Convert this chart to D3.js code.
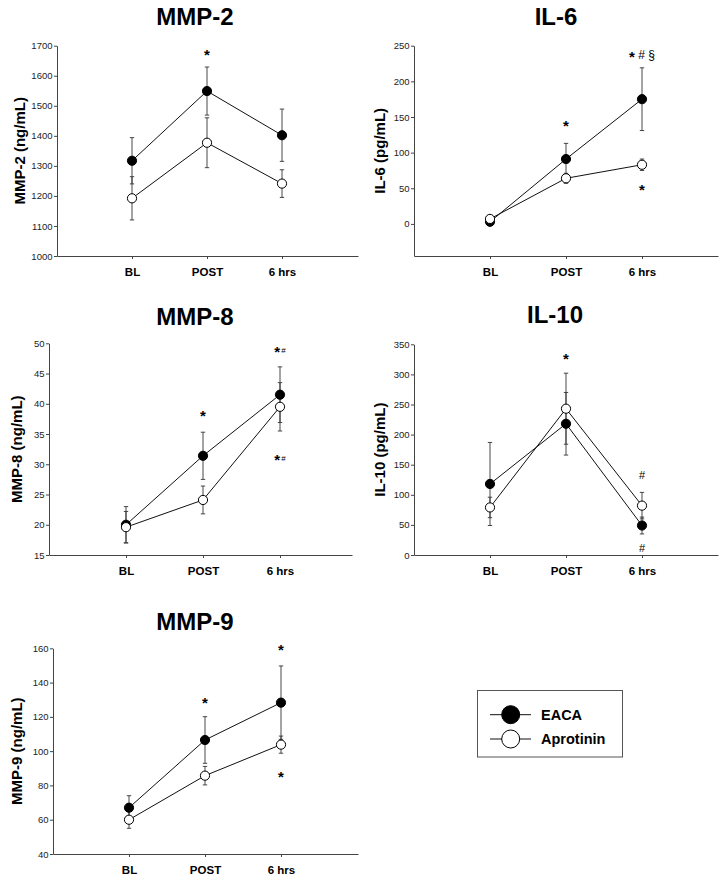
<!DOCTYPE html>
<html>
<head>
<meta charset="utf-8">
<script src="https://cdn.jsdelivr.net/npm/d3@7"></script>
<style>
  html, body { margin: 0; padding: 0; background: #fff; }
  svg { display: block; font-family: "Liberation Sans", Arial, sans-serif; }
</style>
</head>
<body>
<svg id="chart" width="725" height="883"></svg>
<script>
// ---------- DATA ----------
const categories = ["BL", "POST", "6 hrs"];
const seriesNames = ["EACA", "Aprotinin"];

const mmp2EACA = [1317, 1549, 1402];
const mmp2EACAse = [77, 80, 87];
const mmp2Aprotinin = [1192, 1377, 1241];
const mmp2AprotininSe = [72, 83, 46];
const mmp2Ticks = [1000, 1100, 1200, 1300, 1400, 1500, 1600, 1700];

const il6EACA = [3, 91, 175];
const il6EACAse = [2, 22, 44];
const il6Aprotinin = [7, 64, 83];
const il6AprotininSe = [2, 7, 8];
const il6Ticks = [0, 50, 100, 150, 200, 250];

const mmp8EACA = [20.0, 31.4, 41.5];
const mmp8EACAse = [3.0, 3.9, 4.6];
const mmp8Aprotinin = [19.6, 24.1, 39.5];
const mmp8AprotininSe = [2.6, 2.3, 4.0];
const mmp8Ticks = [15, 20, 25, 30, 35, 40, 45, 50];

const il10EACA = [118, 218, 49];
const il10EACAse = [69, 52, 14];
const il10Aprotinin = [79, 243, 82];
const il10AprotininSe = [17, 59, 22];
const il10Ticks = [0, 50, 100, 150, 200, 250, 300, 350];

const mmp9EACA = [67, 106.5, 128.3];
const mmp9EACAse = [7, 13.6, 21.4];
const mmp9Aprotinin = [60, 85.7, 103.8];
const mmp9AprotininSe = [5, 5.4, 5];
const mmp9Ticks = [40, 60, 80, 100, 120, 140, 160];

// significance marks: [category index, value at glyph centre, main symbol, superscript]
const mmp2Marks = [[1, 1680, "*", ""]];
const il6Marks = [[1, 142, "*", ""], [2, 238, "* # §", ""], [2, 52, "*", ""]];
const mmp8Marks = [[1, 38.5, "*", ""], [2, 49.1, "*", "#"], [2, 31.3, "*", "#"]];
const il10Marks = [[1, 331, "*", ""], [2, 133, "#", ""], [2, 12, "#", ""]];
const mmp9Marks = [[1, 130.4, "*", ""], [2, 161.3, "*", ""], [2, 87.2, "*", ""]];

// ---------- LAYOUT ----------
const panels = [
  { title: "MMP-2", ylabel: "MMP-2 (ng/mL)", e: mmp2EACA, es: mmp2EACAse, a: mmp2Aprotinin, as: mmp2AprotininSe, ticks: mmp2Ticks, marks: mmp2Marks,
    dom: [1000, 1700], x0: 57, step: 75, xEnd: 358, yTop: 45.7, yBot: 256, titleX: 195, titleY: 25, labX: 24.5 },
  { title: "IL-6", ylabel: "IL-6 (pg/mL)", e: il6EACA, es: il6EACAse, a: il6Aprotinin, as: il6AprotininSe, ticks: il6Ticks, marks: il6Marks,
    dom: [-45, 250], x0: 414, step: 76, xEnd: 718, yTop: 45.7, yBot: 256, titleX: 556, titleY: 25, labX: 385 },
  { title: "MMP-8", ylabel: "MMP-8 (ng/mL)", e: mmp8EACA, es: mmp8EACAse, a: mmp8Aprotinin, as: mmp8AprotininSe, ticks: mmp8Ticks, marks: mmp8Marks,
    dom: [15, 50], x0: 49, step: 77, xEnd: 352, yTop: 343.3, yBot: 555, titleX: 195, titleY: 325, labX: 22 },
  { title: "IL-10", ylabel: "IL-10 (pg/mL)", e: il10EACA, es: il10EACAse, a: il10Aprotinin, as: il10AprotininSe, ticks: il10Ticks, marks: il10Marks,
    dom: [0, 350], x0: 414, step: 76, xEnd: 718, yTop: 344.3, yBot: 555, titleX: 555, titleY: 323, labX: 385 },
  { title: "MMP-9", ylabel: "MMP-9 (ng/mL)", e: mmp9EACA, es: mmp9EACAse, a: mmp9Aprotinin, as: mmp9AprotininSe, ticks: mmp9Ticks, marks: mmp9Marks,
    dom: [40, 160], x0: 53, step: 76, xEnd: 358, yTop: 648.3, yBot: 854, titleX: 195, titleY: 630, labX: 22 }
];

const svg = d3.select("#chart");
const axisColor = "#444";

panels.forEach(p => {
  const g = svg.append("g");
  const x = d3.scaleLinear().domain([0, (p.xEnd - p.x0) / p.step]).range([p.x0, p.xEnd]);
  const y = d3.scaleLinear().domain(p.dom).range([p.yBot, p.yTop]);

  // title
  g.append("text").attr("x", p.titleX).attr("y", p.titleY)
    .attr("text-anchor", "middle").attr("font-size", 24).attr("font-weight", "bold")
    .attr("fill", "#000").text(p.title);

  // y label
  const ym = (p.yTop + p.yBot) / 2;
  g.append("text").attr("transform", `translate(${p.labX},${ym}) rotate(-90)`)
    .attr("text-anchor", "middle").attr("font-size", 15).attr("font-weight", "bold")
    .attr("fill", "#000").text(p.ylabel);

  // y axis
  const ya = g.append("g").attr("transform", `translate(${p.x0},0)`)
    .call(d3.axisLeft(y).tickValues(p.ticks).tickSize(3).tickSizeOuter(0).tickPadding(1.5).tickFormat(d3.format("d")));
  ya.select(".domain").attr("stroke", axisColor);
  ya.selectAll(".tick line").attr("stroke", axisColor);
  ya.selectAll(".tick text").attr("font-size", 9.5).attr("fill", "#222")
    .attr("font-family", "'Liberation Sans', Arial, sans-serif");

  // x axis
  const xa = g.append("g").attr("transform", `translate(0,${p.yBot})`)
    .call(d3.axisBottom(x).tickValues([1, 2, 3]).tickSize(3).tickSizeOuter(0).tickPadding(9)
      .tickFormat(d => categories[d - 1]));
  xa.select(".domain").attr("stroke", axisColor);
  xa.selectAll(".tick line").attr("stroke", axisColor);
  xa.selectAll(".tick text").attr("font-size", 11.5).attr("font-weight", "bold").attr("fill", "#000")
    .attr("font-family", "'Liberation Sans', Arial, sans-serif");

  const series = [
    { vals: p.e, se: p.es, fill: "#000" },
    { vals: p.a, se: p.as, fill: "#fff" }
  ];

  // error bars
  series.forEach(s => {
    s.vals.forEach((v, i) => {
      const cx = x(i + 1);
      const eb = g.append("g").attr("stroke", "#333").attr("stroke-width", 0.9);
      eb.append("line").attr("x1", cx).attr("x2", cx).attr("y1", y(v - s.se[i])).attr("y2", y(v + s.se[i]));
      eb.append("line").attr("x1", cx - 2.2).attr("x2", cx + 2.2).attr("y1", y(v + s.se[i])).attr("y2", y(v + s.se[i]));
      eb.append("line").attr("x1", cx - 2.2).attr("x2", cx + 2.2).attr("y1", y(v - s.se[i])).attr("y2", y(v - s.se[i]));
    });
  });

  // lines
  const line = d3.line().x((d, i) => x(i + 1)).y(d => y(d));
  series.forEach(s => {
    g.append("path").datum(s.vals).attr("d", line).attr("fill", "none")
      .attr("stroke", "#111").attr("stroke-width", 1);
  });

  // markers
  series.forEach(s => {
    g.selectAll(null).data(s.vals).enter().append("circle")
      .attr("cx", (d, i) => x(i + 1)).attr("cy", d => y(d)).attr("r", 4.6)
      .attr("fill", s.fill).attr("stroke", "#000").attr("stroke-width", 1);
  });

  // significance marks
  p.marks.forEach(m => {
    const [ci, val, sym, sup] = m;
    const cx = x(ci + 1), cy = y(val);
    if (sym === "#") {
      g.append("text").attr("x", cx).attr("y", cy + 4).attr("text-anchor", "middle")
        .attr("font-size", 11).attr("fill", "#000").text("#");
    } else if (sym === "* # §") {
      const t = g.append("text").attr("x", cx).attr("y", cy + 5).attr("text-anchor", "middle")
        .attr("font-size", 12).attr("fill", "#000");
      t.append("tspan").attr("font-size", 15).attr("font-weight", "bold").attr("dy", 3).text("*");
      t.append("tspan").attr("dy", -3).text(" # §");
    } else {
      const t = g.append("text").attr("x", cx).attr("y", cy + 8.5).attr("text-anchor", "middle")
        .attr("font-size", 15).attr("font-weight", "bold").attr("fill", "#000");
      t.append("tspan").text("*");
      if (sup) {
        t.append("tspan").attr("font-size", 8).attr("font-weight", "normal").attr("dy", -4).attr("dx", 1).text(sup);
      }
    }
  });
});

// ---------- LEGEND ----------
const lg = svg.append("g");
lg.append("rect").attr("x", 477.5).attr("y", 690.5).attr("width", 145).attr("height", 66.5)
  .attr("fill", "#fff").attr("stroke", "#555").attr("stroke-width", 1);
const legendFills = ["#000", "#fff"];
const legendY = d3.scalePoint().domain(seriesNames).range([714.7, 739]);
seriesNames.forEach((n, i) => {
  const yy = legendY(n);
  lg.append("line").attr("x1", 490).attr("x2", 531).attr("y1", yy).attr("y2", yy)
    .attr("stroke", "#111").attr("stroke-width", 1);
  lg.append("circle").attr("cx", 510.7).attr("cy", yy).attr("r", 9)
    .attr("fill", legendFills[i]).attr("stroke", "#000").attr("stroke-width", 1);
  lg.append("text").attr("x", 541).attr("y", yy + 5).attr("font-size", 14.5).attr("font-weight", "bold")
    .attr("fill", "#000").text(n);
});
</script>
</body>
</html>
